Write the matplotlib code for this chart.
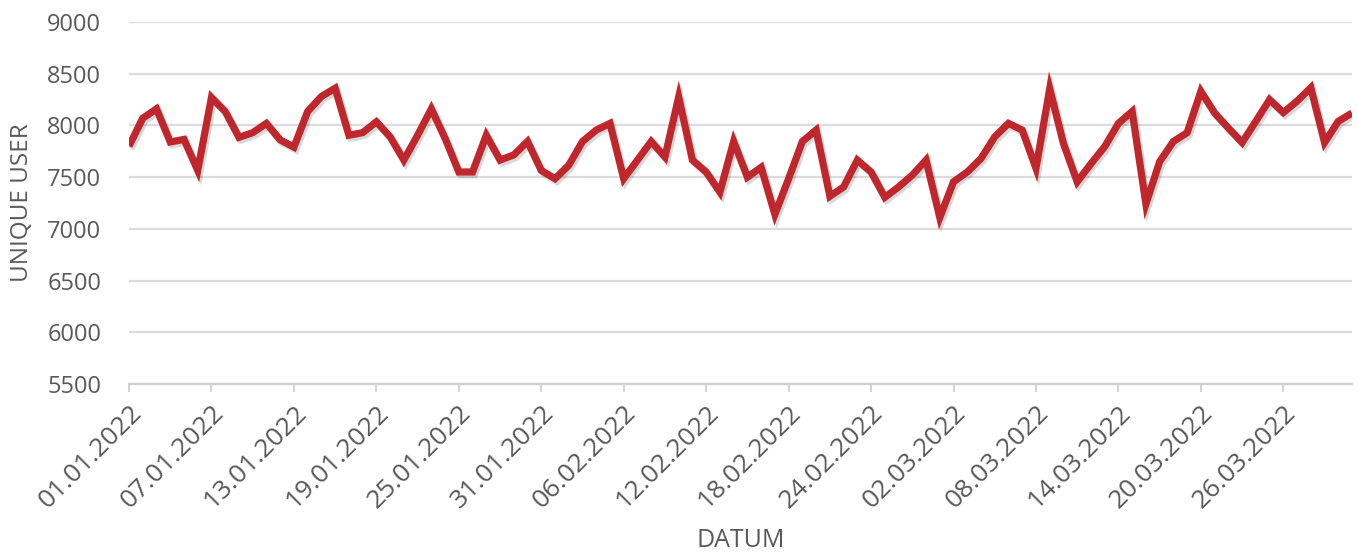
import matplotlib
matplotlib.use("Agg")
import matplotlib.pyplot as plt
import matplotlib.dates as mdates
import matplotlib.patheffects as pe
import pandas as pd

# daily unique users, 01.01.2022 - 31.03.2022
dates = pd.date_range("2022-01-01", "2022-03-31", freq="D")
users = [7800, 8070, 8160, 7840, 7865, 7565, 8270, 8135, 7885, 7930,
         8020, 7860, 7790, 8135, 8280, 8360, 7905, 7930, 8035, 7890,
         7665, 7905, 8160, 7875, 7550, 7550, 7905, 7665, 7715, 7845,
         7565, 7485, 7615, 7845, 7955, 8020, 7485, 7665, 7845, 7695,
         8275, 7665, 7550, 7355, 7845, 7500, 7595, 7140, 7485, 7845,
         7955, 7315, 7405, 7665, 7550, 7305, 7405, 7520, 7665, 7110,
         7455, 7550, 7680, 7890, 8020, 7955, 7585, 8355, 7825, 7455,
         7630, 7795, 8020, 8135, 7240, 7650, 7845, 7930, 8330, 8120,
         7975, 7835, 8040, 8250, 8125, 8235, 8365, 7835, 8040, 8120]
yticks = [5500, 6000, 6500, 7000, 7500, 8000, 8500, 9000]
tick_dates = dates[::6]

plt.rcParams['font.family'] = ['Open Sans', 'DejaVu Sans']
txt = '#595959'

fig = plt.figure(figsize=(13.58, 5.53), dpi=100)
ax = fig.add_axes([0.095, 0.3056, 0.9006, 0.6546])

ax.plot(dates, users, color='#c0272d', lw=5.2, solid_joinstyle='miter',
        solid_capstyle='butt', zorder=3,
        path_effects=[pe.SimpleLineShadow(offset=(1.5, -2), alpha=0.15, shadow_color='black'),
                      pe.Normal()])

ax.set_ylim(5500, 9000)
ax.set_yticks(yticks)
ax.set_xlim(dates[0], dates[-1])
ax.set_xticks(tick_dates)
ax.xaxis.set_major_formatter(mdates.DateFormatter('%d.%m.%Y'))

ax.grid(axis='y', color='#dcdcdc', lw=1.6)
ax.set_axisbelow(True)
for s in ['top', 'right', 'left']:
    ax.spines[s].set_visible(False)
ax.spines['bottom'].set_color('#d0d0d0')
ax.spines['bottom'].set_linewidth(1.6)

ax.tick_params(axis='y', length=0, pad=20, labelsize=17, labelcolor=txt)
ax.tick_params(axis='x', length=6, width=1.3, color='#d0d0d0', pad=6,
               labelsize=19, labelcolor=txt)
for lab in ax.get_xticklabels():
    lab.set_rotation(45)
    lab.set_ha('right')
    lab.set_rotation_mode('anchor')

ax.set_ylabel('UNIQUE USER', fontsize=17.5, color=txt, va='center')
ax.yaxis.set_label_coords(-0.0876, 0.5)
ax.set_xlabel('DATUM', fontsize=18, color=txt, va='center')
ax.xaxis.set_label_coords(0.5, -0.431)

fig.savefig('out.png', dpi=100, facecolor='white')
